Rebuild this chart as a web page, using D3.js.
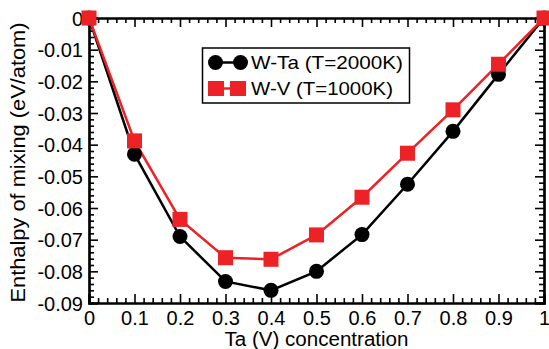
<!DOCTYPE html>
<html>
<head>
<meta charset="utf-8">
<script src="https://cdn.jsdelivr.net/npm/d3@7"></script>
<style>
  html, body { margin: 0; padding: 0; background: #fff; }
  svg { display: block; }
  text { font-family: "Liberation Sans", Arial, Helvetica, sans-serif; fill: #000; }
</style>
</head>
<body>
<svg id="chart" width="549" height="349"></svg>
<script>
// ---- data ----
const concentration = [0, 0.1, 0.2, 0.3, 0.4, 0.5, 0.6, 0.7, 0.8, 0.9, 1.0];
const wTa = [0, -0.0430, -0.0690, -0.0832, -0.0860, -0.0800, -0.0684, -0.0525, -0.0358, -0.0178, 0];
const wV  = [0, -0.0388, -0.0636, -0.0757, -0.0762, -0.0685, -0.0566, -0.0427, -0.0290, -0.0146, 0];
const seriesNames = ["W-Ta (T=2000K)", "W-V (T=1000K)"];
const xTicks = [0, 0.1, 0.2, 0.3, 0.4, 0.5, 0.6, 0.7, 0.8, 0.9, 1];
const xTickLabels = ["0", "0.1", "0.2", "0.3", "0.4", "0.5", "0.6", "0.7", "0.8", "0.9", "1"];
const yTicks = [0, -0.01, -0.02, -0.03, -0.04, -0.05, -0.06, -0.07, -0.08, -0.09];
const yTickLabels = ["0", "-0.01", "-0.02", "-0.03", "-0.04", "-0.05", "-0.06", "-0.07", "-0.08", "-0.09"];
const xTitle = "Ta (V) concentration";
const yTitle = "Enthalpy of mixing (eV/atom)";

// ---- layout ----
const W = 549, H = 349;
const m = { left: 89, right: 5, top: 18, bottom: 46 };
const pw = W - m.left - m.right, ph = H - m.top - m.bottom;
const RED = "#ec2227";

const svg = d3.select("#chart");
const g = svg.append("g").attr("transform", `translate(${m.left},${m.top})`);

const x = d3.scaleLinear().domain([0, 1]).range([0, pw]);
const y = d3.scaleLinear().domain([-0.09, 0]).range([ph, 0]);

// minor ticks
const xMinor = d3.range(0, 1.0001, 0.02).filter(v => Math.abs(v * 10 - Math.round(v * 10)) > 1e-6);
const yMinor = d3.range(-0.09, 0.00001, 0.002).filter(v => Math.abs(v * 100 - Math.round(v * 100)) > 1e-6);

const MAJ = 9, MIN = 5;
const axB = g.append("g").attr("transform", `translate(0,${ph})`)
  .call(d3.axisBottom(x).tickValues(xTicks).tickSize(-MAJ).tickFormat((d, i) => xTickLabels[i]).tickPadding(8));
g.append("g").attr("transform", `translate(0,${ph})`)
  .call(d3.axisBottom(x).tickValues(xMinor).tickSize(-MIN).tickFormat(""));
g.append("g")
  .call(d3.axisTop(x).tickValues(xTicks).tickSize(-MAJ).tickFormat(""));
g.append("g")
  .call(d3.axisTop(x).tickValues(xMinor).tickSize(-MIN).tickFormat(""));
const axL = g.append("g")
  .call(d3.axisLeft(y).tickValues(yTicks).tickSize(-MAJ).tickFormat((d, i) => yTickLabels[i]).tickPadding(6));
g.append("g")
  .call(d3.axisLeft(y).tickValues(yMinor).tickSize(-MIN).tickFormat(""));
g.append("g").attr("transform", `translate(${pw},0)`)
  .call(d3.axisRight(y).tickValues(yTicks).tickSize(-MAJ).tickFormat(""));
g.append("g").attr("transform", `translate(${pw},0)`)
  .call(d3.axisRight(y).tickValues(yMinor).tickSize(-MIN).tickFormat(""));

g.selectAll(".domain").attr("stroke", "#000").attr("stroke-width", 2.2);
g.selectAll(".tick line").attr("stroke", "#000").attr("stroke-width", 1.6);
g.selectAll(".tick text").style("font-size", "20px").attr("fill", "#000")
  .style("font-family", '"Liberation Sans", Arial, sans-serif');
axB.selectAll(".tick text").attr("dy", "0.71em");
axL.selectAll(".tick text").attr("dy", "0.35em");

// lines
const line = d3.line().x((d, i) => x(concentration[i])).y(d => y(d));
g.append("path").datum(wTa).attr("d", line).attr("fill", "none").attr("stroke", "#000").attr("stroke-width", 2.5);
g.append("path").datum(wV).attr("d", line).attr("fill", "none").attr("stroke", RED).attr("stroke-width", 2.5);

// markers
g.selectAll("circle.ta").data(wTa).enter().append("circle")
  .attr("cx", (d, i) => x(concentration[i])).attr("cy", d => y(d)).attr("r", 7.5).attr("fill", "#000");
const S = 15;
g.selectAll("rect.v").data(wV).enter().append("rect")
  .attr("x", (d, i) => x(concentration[i]) - S / 2).attr("y", d => y(d) - S / 2)
  .attr("width", S).attr("height", S).attr("fill", RED);

// legend
const lg = svg.append("g");
lg.append("rect").attr("x", 202.5).attr("y", 48).attr("width", 207).attr("height", 55)
  .attr("fill", "#fff").attr("stroke", "#000").attr("stroke-width", 1.5);
lg.append("line").attr("x1", 215.5).attr("x2", 240.5).attr("y1", 62.5).attr("y2", 62.5).attr("stroke", "#000").attr("stroke-width", 2.5);
lg.selectAll("circle.l").data([215.5, 240.5]).enter().append("circle")
  .attr("cx", d => d).attr("cy", 62.5).attr("r", 7.5).attr("fill", "#000");
lg.append("text").attr("x", 251).attr("y", 68.5).style("font-size", "19px")
  .attr("textLength", 152).attr("lengthAdjust", "spacingAndGlyphs").text(seriesNames[0]);
lg.append("line").attr("x1", 216).attr("x2", 238).attr("y1", 88.5).attr("y2", 88.5).attr("stroke", RED).attr("stroke-width", 2.5);
lg.selectAll("rect.l").data([216, 238]).enter().append("rect")
  .attr("x", d => d - 8).attr("y", 88.5 - 7.5).attr("width", 16).attr("height", 15).attr("fill", RED);
lg.append("text").attr("x", 251).attr("y", 95).style("font-size", "19px")
  .attr("textLength", 142).attr("lengthAdjust", "spacingAndGlyphs").text(seriesNames[1]);

// axis titles
svg.append("text").attr("x", m.left + pw / 2).attr("y", 346).attr("text-anchor", "middle")
  .style("font-size", "19.5px").attr("textLength", 184).attr("lengthAdjust", "spacingAndGlyphs").text(xTitle);
svg.append("text").attr("transform", `translate(25,${m.top + ph / 2 + 2}) rotate(-90)`)
  .attr("text-anchor", "middle").style("font-size", "19.5px")
  .attr("textLength", 280).attr("lengthAdjust", "spacingAndGlyphs").text(yTitle);
</script>
</body>
</html>
